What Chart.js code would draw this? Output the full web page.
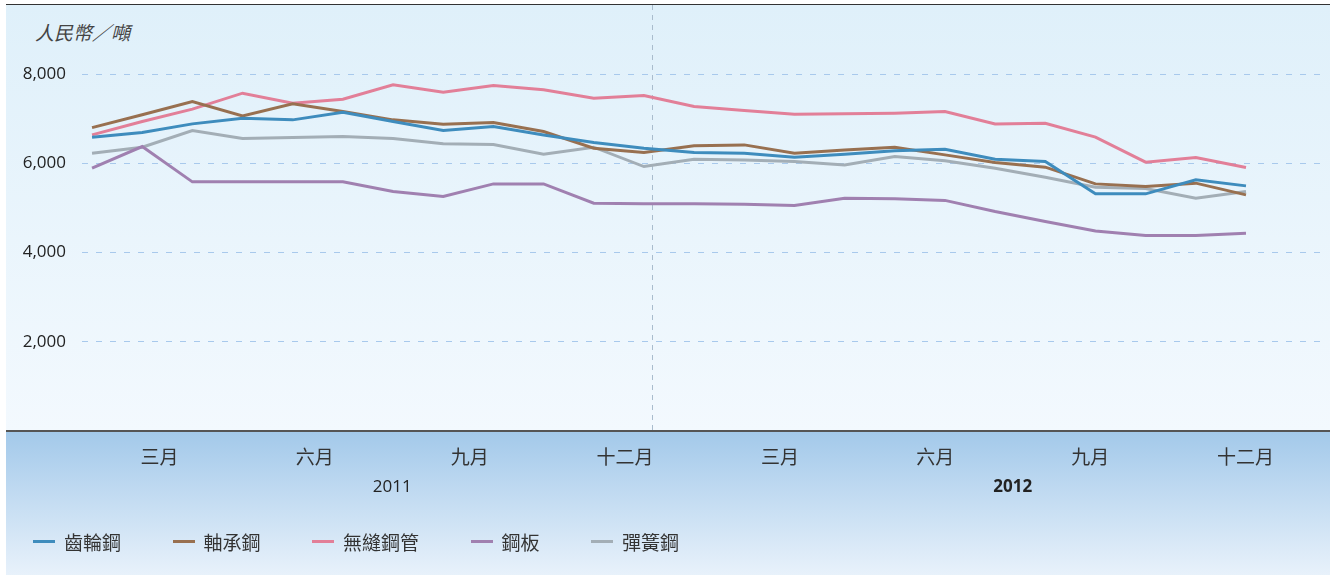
<!DOCTYPE html>
<html>
<head>
<meta charset="utf-8">
<script src="https://cdn.jsdelivr.net/npm/chart.js@4.4.1/dist/chart.umd.min.js"></script>
<style>
  html, body { margin: 0; padding: 0; background: #fff; }
  #wrap { position: relative; width: 1334px; height: 575px; overflow: hidden; }
  .plotbg {
    position: absolute; left: 6px; top: 4px; width: 1324px; height: 427px;
    border-top: 1.5px solid #333;
    background: linear-gradient(#dff0fa, #f3f9fe);
  }
  .foot {
    position: absolute; left: 6px; top: 430px; width: 1324px; height: 145px;
    border-top: 2px solid #555;
    background: linear-gradient(#a3c9ea, #e9f2fb);
  }
  .unit {
    position: absolute; left: 35px; top: 18px;
    font: italic 19px "Noto Sans CJK TC", sans-serif; color: #444;
  }
  #c { position: absolute; left: 0; top: 0; }
  #legend {
    position: absolute; left: 33px; top: 528px; height: 26px;
    display: flex; gap: 51.5px; align-items: center;
    font: 19px "Noto Sans CJK TC", sans-serif; color: #333;
  }
  #legend .item { display: flex; align-items: center; white-space: nowrap; }
  #legend .sw { width: 22px; height: 3px; margin-right: 9px; }
</style>
</head>
<body>
<div id="wrap">
  <div class="plotbg"></div>
  <div class="foot"></div>
  <div class="unit">人民幣／噸</div>
  <canvas id="c" width="1334" height="575"></canvas>
  <div id="legend"></div>
</div>
<script>
/* ── 資料 ── */
const months = ['2011-01','2011-02','2011-03','2011-04','2011-05','2011-06',
                '2011-07','2011-08','2011-09','2011-10','2011-11','2011-12',
                '2012-01','2012-02','2012-03','2012-04','2012-05','2012-06',
                '2012-07','2012-08','2012-09','2012-10','2012-11','2012-12'];
const quarterLabels = ['三月','六月','九月','十二月','三月','六月','九月','十二月'];
const yearLabels    = ['2011','2012'];
const yTicks        = [2000, 4000, 6000, 8000];
const yearBreak     = 11.18;   // 2011 / 2012 分隔線

const seriesNames = ['齒輪鋼','軸承鋼','無縫鋼管','鋼板','彈簧鋼'];
const gearSteel    = [6587,6690,6885,7013,6975,7147,6937,6735,6825,6638,6466,6340,
                      6242,6228,6138,6206,6280,6318,6094,6040,5316,5316,5630,5495];
const bearingSteel = [6802,7090,7385,7065,7334,7161,6975,6878,6915,6713,6340,6242,
                      6392,6414,6228,6302,6362,6190,6018,5914,5540,5480,5556,5293];
const seamlessPipe = [6638,6937,7215,7573,7349,7439,7760,7595,7745,7648,7461,7520,
                      7273,7184,7103,7110,7125,7161,6885,6900,6587,6026,6130,5906];
const steelPlate   = [5892,6377,5585,5585,5585,5585,5367,5256,5540,5540,5106,5092,
                      5092,5084,5054,5219,5204,5170,4919,4695,4486,4381,4381,4435];
const springSteel  = [6228,6362,6735,6556,6578,6600,6556,6437,6421,6206,6362,5928,
                      6094,6078,6040,5966,6152,6056,5892,5690,5466,5435,5219,5367];
const seriesColors = ['#3e8cbd','#987050','#e27f98','#a080b0','#a3aeb6'];

const allSeries = [gearSteel, bearingSteel, seamlessPipe, steelPlate, springSteel];

const CJK  = '"Noto Sans CJK TC", sans-serif';
const LATN = '"Open Sans", sans-serif';

const datasets = allSeries.map((arr, k) => ({
  label: seriesNames[k],
  data: arr.map((v, i) => ({ x: i, y: v })),
  borderColor: seriesColors[k],
  backgroundColor: seriesColors[k],
  borderWidth: 3,
  pointRadius: 0,
  tension: 0,
  xAxisID: 'x',
}));

const chart = new Chart(document.getElementById('c'), {
  type: 'line',
  data: { datasets },
  options: {
    responsive: false,
    animation: false,
    layout: { padding: { left: 0, top: 5, right: 11, bottom: 74 } },
    plugins: {
      tooltip: { enabled: false },
      legend: { display: false },
    },
    scales: {
      // 資料軸（隱藏），只畫年度分隔線
      x: {
        type: 'linear',
        position: 'bottom',
        weight: -1,
        min: -0.2,
        max: 24.535,
        afterBuildTicks: s => { s.ticks = [{ value: yearBreak }]; },
        afterFit: s => { s.height = 0; },
        ticks: { display: false },
        grid: { color: '#a9bccd', lineWidth: 1, drawTicks: false },
        border: { display: false, dash: [5, 5] },
      },
      xq: {
        type: 'category',
        labels: quarterLabels,
        offset: true,
        position: 'bottom',
        weight: 0,
        afterFit: s => { s.height = 40; },
        grid: { display: false, drawTicks: false },
        border: { display: false },
        ticks: { padding: 14, autoSkip: false, maxRotation: 0, color: '#333', font: { family: CJK, size: 19 } },
      },
      xy: {
        type: 'category',
        labels: yearLabels,
        offset: true,
        position: 'bottom',
        weight: 1,
        afterFit: s => { s.height = 30; },
        grid: { display: false, drawTicks: false },
        border: { display: false },
        ticks: {
          padding: 6, autoSkip: false, maxRotation: 0, color: '#222',
          font: c => ({ family: LATN, size: 17, weight: c.index === 1 ? 'bold' : 'normal' }),
        },
      },
      y: {
        min: 0,
        max: 9550,
        afterBuildTicks: s => { s.ticks = yTicks.map(v => ({ value: v })); },
        afterFit: s => { s.width = 82; s.paddingTop = 0; s.paddingBottom = 0; },
        grid: { color: '#a8c9ec', lineWidth: 1, drawTicks: false },
        border: { display: false, dash: [6, 8] },
        ticks: {
          padding: 16, color: '#222',
          font: { family: LATN, size: 17 },
          callback: v => v.toLocaleString('en-US'),
        },
      },
    },
  },
});

/* ── 圖例 ── */
const legendEl = document.getElementById('legend');
chart.data.datasets.forEach(ds => {
  const item = document.createElement('div');
  item.className = 'item';
  item.innerHTML = `<span class="sw" style="background:${ds.borderColor}"></span>${ds.label}`;
  legendEl.appendChild(item);
});
</script>
</body>
</html>
